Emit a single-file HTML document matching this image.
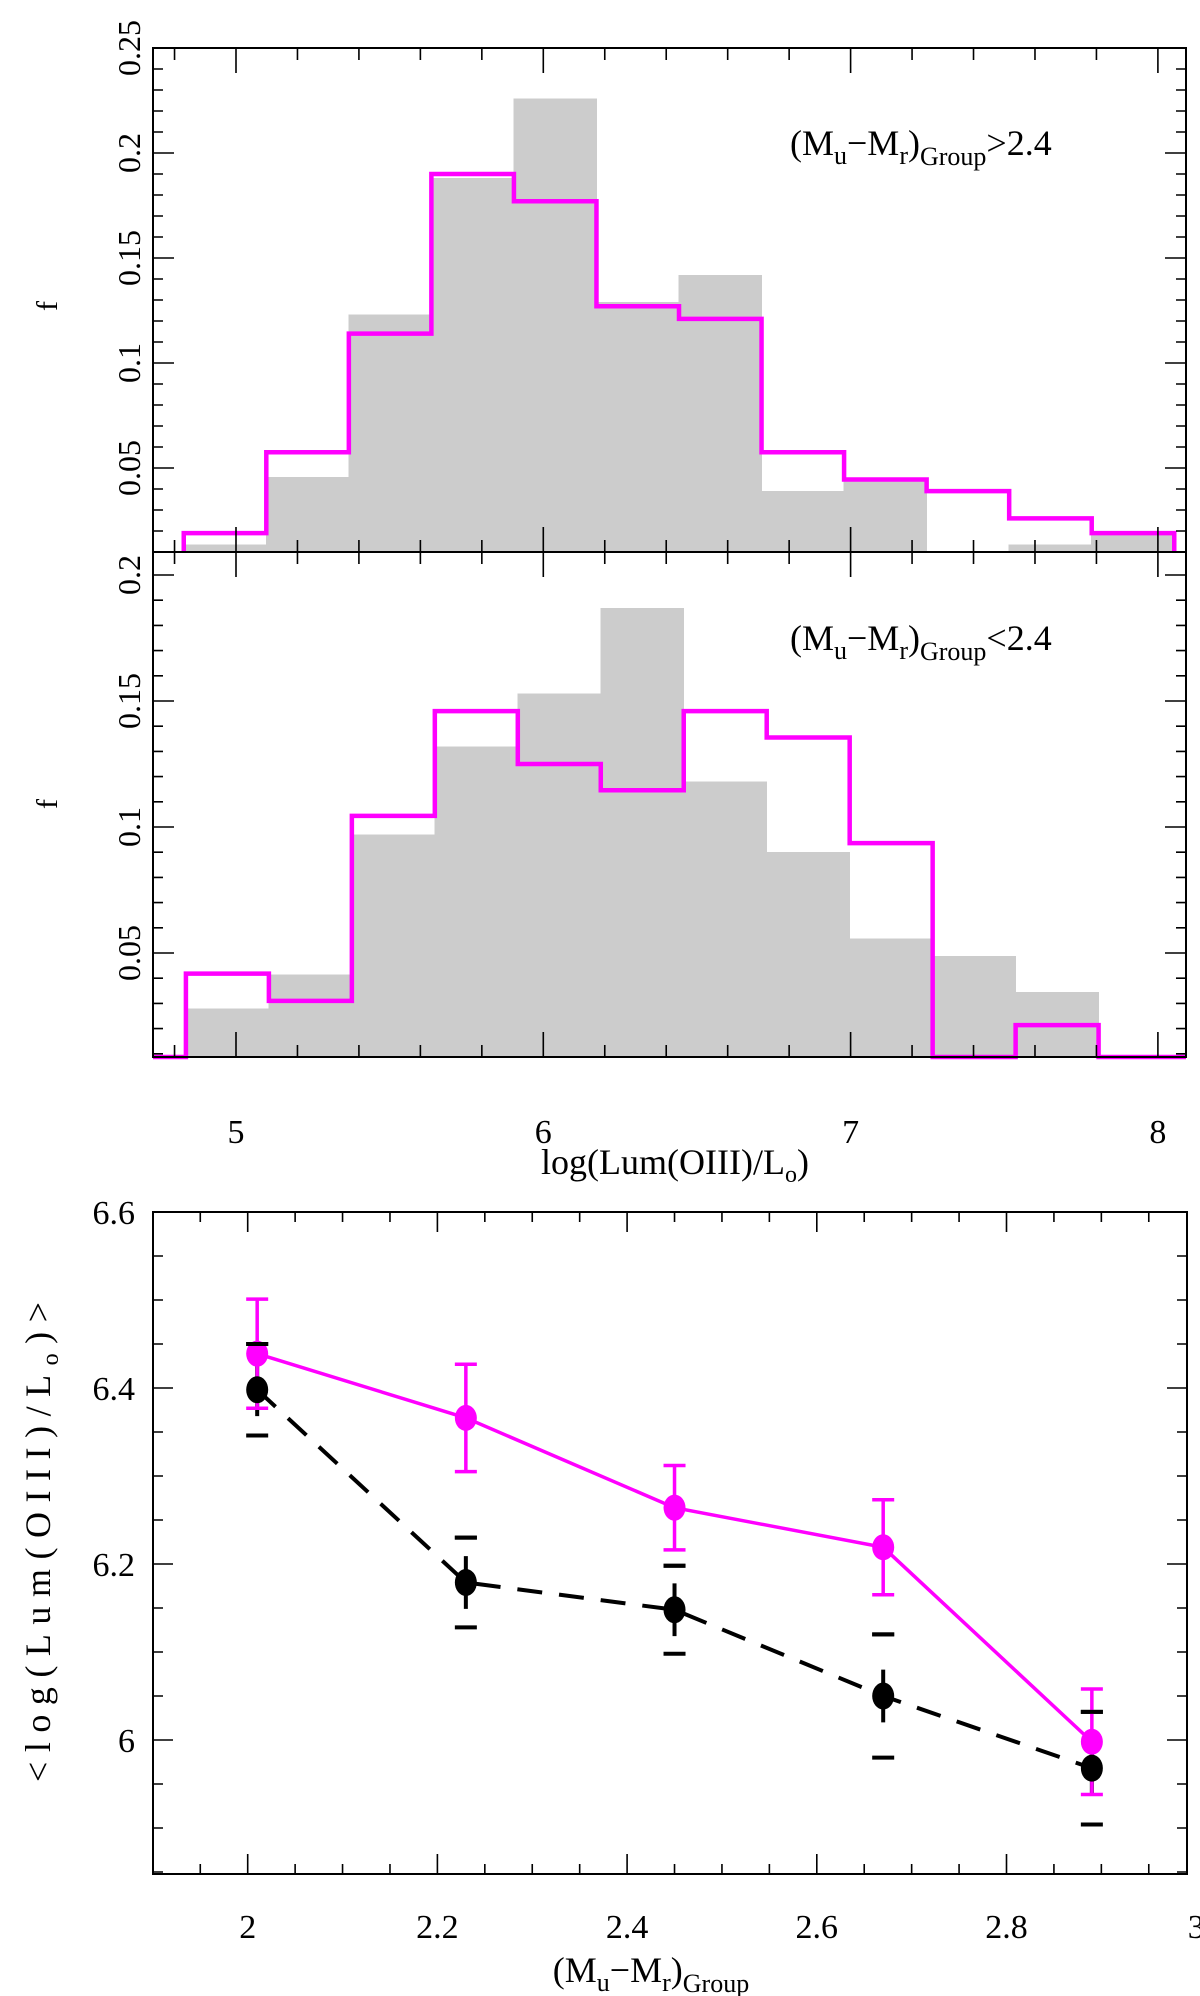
<!DOCTYPE html>
<html><head><meta charset="utf-8">
<style>
html,body{margin:0;padding:0;background:#fff;}
svg{display:block;}
text{font-family:"Liberation Serif","DejaVu Serif",serif;fill:#000;}
</style></head>
<body>
<svg id="chart" width="1200" height="1996" viewBox="0 0 1200 1996" xmlns="http://www.w3.org/2000/svg">
<g id="top"></g>
<g id="low"></g>
<g id="bot"></g>
</svg>
<script>
// ---- histogram data ----
const topBinStart = 4.83;
const topBinWidth = 0.2686;
const topMagenta = [0.019,0.0575,0.114,0.190,0.177,0.127,0.121,0.0575,0.0445,0.039,0.026,0.019];
const topGray = [0.0135,0.0456,0.123,0.188,0.226,0.129,0.142,0.039,0.0435,0,0.0135,0.019];
const lowBinStart = 4.837;
const lowBinWidth = 0.270;
const lowMagenta = [0.0418,0.031,0.1044,0.146,0.125,0.1146,0.146,0.1355,0.0936,0,0.0214,0];
const lowGray = [0.0279,0.0415,0.097,0.132,0.153,0.187,0.118,0.090,0.0558,0.0488,0.0345,0];
const histXTicks = [5,6,7,8];
const topYTicks = [0.05,0.1,0.15,0.2,0.25];
const topYTickLabels = ["0.05","0.1","0.15","0.2","0.25"];
const lowYTicks = [0.05,0.1,0.15,0.2];
const lowYTickLabels = ["0.05","0.1","0.15","0.2"];
// ---- bottom plot data ----
const colors = [2.01,2.23,2.45,2.67,2.89];
const magentaMean = [6.439,6.366,6.264,6.219,5.998];
const magentaErr = [0.062,0.061,0.048,0.054,0.060];
const blackMean = [6.398,6.179,6.148,6.050,5.968];
const blackInnerErr = [0.03,0.03,0.03,0.03,0.03];
const blackOuterErr = [0.052,0.051,0.05,0.07,0.064];
const botXTicks = [2,2.2,2.4,2.6,2.8,3];
const botXTickLabels = ["2","2.2","2.4","2.6","2.8","3"];
const botYTicks = [6,6.2,6.4,6.6];
const botYTickLabels = ["6","6.2","6.4","6.6"];

const NS="http://www.w3.org/2000/svg";
function mk(tag, attrs, parent){const e=document.createElementNS(NS,tag);for(const k in attrs)e.setAttribute(k,attrs[k]);parent.appendChild(e);return e;}

const HL=153,HR=1186;
const hx=v=>236+(v-5)*307.3;
const topY=v=>573-v*2100;
const lowY=v=>1079-v*2520;

function histPanel(g, y, yT, yB, bs, bw, gray, mag, yticks, ylabels, label, fy, labelY, edgeToFrame){
  gray.forEach((v,i)=>{
    if(v<=0) return;
    const x0=hx(bs+i*bw), x1=hx(bs+(i+1)*bw);
    const top=Math.max(y(v),yT);
    const r=mk('rect',{x:x0-0.5,y:top,width:x1-x0+1,height:yB-top,fill:'#cccccc','shape-rendering':'crispEdges'},g);
    
    
  });
  let d='';
  const clamp=v=>Math.min(y(v),yB);
  if(edgeToFrame){d+='M'+HL+','+yB+' L'+hx(bs)+','+yB+' L'+hx(bs)+','+clamp(mag[0]);}
  else{d+='M'+hx(bs)+','+yB+' L'+hx(bs)+','+clamp(mag[0]);}
  mag.forEach((v,i)=>{
    const x0=hx(bs+i*bw), x1=hx(bs+(i+1)*bw);
    d+=' L'+x0+','+clamp(v)+' L'+x1+','+clamp(v);
    if(i<mag.length-1) d+=' L'+x1+','+clamp(mag[i+1]);
  });
  const xe=hx(bs+mag.length*bw);
  if(edgeToFrame){d+=' L'+xe+','+yB+' L'+HR+','+yB;}
  else{d+=' L'+xe+','+yB;}
  const p=mk('path',{d:d,fill:'none',stroke:'#ff00ff','stroke-width':4.5,'stroke-linejoin':'miter'},g);
  
  
  const f=mk('rect',{x:HL,y:yT,width:HR-HL,height:yB-yT,fill:'none',stroke:'#000','stroke-width':2},g);
  
  
  let td='';
  for(let k=0;k<=40;k++){const v=4.6+k*0.1; if(Math.abs(Math.round(v*10)%2)===1) continue;
    const xx=hx(v); if(xx<HL+1||xx>HR-1) continue;
    const major=Math.abs(v-Math.round(v))<1e-6; const L=major?25:12;
    td+='M'+xx+','+yT+' v'+L+' M'+xx+','+yB+' v'+(-L)+' ';}
  for(let k=1;k<=30;k++){const v=k*0.01; const yy=y(v); if(yy<yT+1||yy>yB-1) continue;
    const major=(k%5===0); const L=major?21:10;
    td+='M'+HL+','+yy+' h'+L+' M'+HR+','+yy+' h'+(-L)+' ';}
  const t=mk('path',{d:td,stroke:'#000','stroke-width':1.6,fill:'none'},g);
  
  
  yticks.forEach((v,i)=>{
    const yy=y(v);
    const tx=mk('text',{x:0,y:0,'font-size':32,'text-anchor':'middle',transform:'translate(140,'+yy+') rotate(-90)'},g);
    tx.textContent=ylabels[i];
    
    
  });
  const fl=mk('text',{x:0,y:0,'font-size':30,'text-anchor':'middle',transform:'translate(57,'+fy+') rotate(-90)'},g);
  fl.textContent='f';
  
  
  const a=mk('text',{x:790,y:labelY,'font-size':36},g);
  
  
  a.innerHTML='(M<tspan dy="9" font-size="26">u</tspan><tspan dy="-9">−M</tspan><tspan dy="9" font-size="26">r</tspan><tspan dy="-9">)</tspan><tspan dy="10" font-size="26">Group</tspan><tspan dy="-10">'+label+'</tspan>';
}
const gTop=document.getElementById('top');
const gLow=document.getElementById('low');
histPanel(gTop, topY, 48, 552, topBinStart, topBinWidth, topGray, topMagenta, topYTicks, topYTickLabels, '&gt;2.4', 306, 155, false);
histPanel(gLow, lowY, 552, 1057, lowBinStart, lowBinWidth, lowGray, lowMagenta, lowYTicks, lowYTickLabels, '&lt;2.4', 804, 650, true);
histXTicks.forEach(v=>{
  const t=mk('text',{x:hx(v),y:1143,'font-size':34,'text-anchor':'middle'},gLow);
  t.textContent=String(v);
  
  
});
{
  const t=mk('text',{x:675,y:1174,'font-size':36,'text-anchor':'middle'},gLow);
  
  
  t.innerHTML='log(Lum(OIII)/L<tspan dy="8" font-size="24">o</tspan><tspan dy="-8">)</tspan>';
}

const BL=153,BR=1187,BT=1212,BB=1874;
const bx=v=>247.7+(v-2)*948.5;
const by=v=>1740-(v-6)*880;
const gBot=document.getElementById('bot');
{
  const f=mk('rect',{x:BL,y:BT,width:BR-BL,height:BB-BT,fill:'none',stroke:'#000','stroke-width':2},gBot);
  
  
  let td='';
  for(let k=0;k<=30;k++){const v=1.9+k*0.05; const xx=bx(v); if(xx<BL+1||xx>BR-1) continue;
    const major=Math.abs(v*5-Math.round(v*5))<1e-6; const L=major?20:10;
    td+='M'+xx+','+BT+' v'+L+' M'+xx+','+BB+' v'+(-L)+' ';}
  for(let k=0;k<=20;k++){const v=5.8+k*0.05; const yy=by(v); if(yy<BT+1||yy>BB-1) continue;
    const major=Math.abs(v*5-Math.round(v*5))<1e-6; const L=major?20:10;
    td+='M'+BL+','+yy+' h'+L+' M'+BR+','+yy+' h'+(-L)+' ';}
  const t=mk('path',{d:td,stroke:'#000','stroke-width':1.6,fill:'none'},gBot);
  
  
}
botXTicks.forEach((v,i)=>{
  const t=mk('text',{x:bx(v),y:1938,'font-size':34,'text-anchor':'middle'},gBot);
  t.textContent=botXTickLabels[i];
  
  
});
botYTicks.forEach((v,i)=>{
  const t=mk('text',{x:135,y:by(v)+12,'font-size':34,'text-anchor':'end'},gBot);
  t.textContent=botYTickLabels[i];
  
  
});
{
  const t=mk('text',{x:0,y:0,'font-size':36,'text-anchor':'middle',transform:'translate(50,1542) rotate(-90)',textLength:480,lengthAdjust:'spacing'},gBot);
  
  
  t.innerHTML='&lt;log(Lum(OIII)/L<tspan dy="8" font-size="24">o</tspan><tspan dy="-8">)&gt;</tspan>';
  const x=mk('text',{x:651,y:1982,'font-size':36,'text-anchor':'middle'},gBot);
  
  
  x.innerHTML='(M<tspan dy="9" font-size="26">u</tspan><tspan dy="-9">−M</tspan><tspan dy="9" font-size="26">r</tspan><tspan dy="-9">)</tspan><tspan dy="10" font-size="26">Group</tspan>';
}
{
  const pts=colors.map((c,i)=>bx(c)+','+by(blackMean[i])).join(' ');
  const l=mk('polyline',{points:pts,fill:'none',stroke:'#000','stroke-width':4,'stroke-dasharray':'25,17'},gBot);
  
  
}
colors.forEach((c,i)=>{
  const x=bx(c), m=blackMean[i];
  const o=mk('path',{d:'M'+(x-11)+','+by(m+blackOuterErr[i])+' h22 M'+(x-11)+','+by(m-blackOuterErr[i])+' h22',stroke:'#000','stroke-width':4,fill:'none'},gBot);
  
  
  const e=mk('line',{x1:x,x2:x,y1:by(m+blackInnerErr[i]),y2:by(m-blackInnerErr[i]),stroke:'#000','stroke-width':4},gBot);
  
  
});
{
  const pts=colors.map((c,i)=>bx(c)+','+by(magentaMean[i])).join(' ');
  const l=mk('polyline',{points:pts,fill:'none',stroke:'#ff00ff','stroke-width':3.5},gBot);
  
  
}
colors.forEach((c,i)=>{
  const x=bx(c), m=magentaMean[i], e=magentaErr[i];
  const p=mk('path',{d:'M'+x+','+by(m+e)+' V'+by(m-e)+' M'+(x-11)+','+by(m+e)+' h22 M'+(x-11)+','+by(m-e)+' h22',stroke:'#ff00ff','stroke-width':3.5,fill:'none'},gBot);
  
  
});
colors.forEach((c,i)=>{
  const p=mk('ellipse',{cx:bx(c),cy:by(magentaMean[i]),rx:11,ry:13,fill:'#ff00ff'},gBot);
  
  
});
colors.forEach((c,i)=>{
  const p=mk('ellipse',{cx:bx(c),cy:by(blackMean[i]),rx:11,ry:13.5,fill:'#000'},gBot);
  
  
});
colors.forEach((c,i)=>{
  const x=bx(c), m=blackMean[i];
  const o=mk('path',{d:'M'+(x-11)+','+by(m+blackOuterErr[i])+' h22',stroke:'#000','stroke-width':4,fill:'none'},gBot);
  
  
});
</script>
</body></html>
